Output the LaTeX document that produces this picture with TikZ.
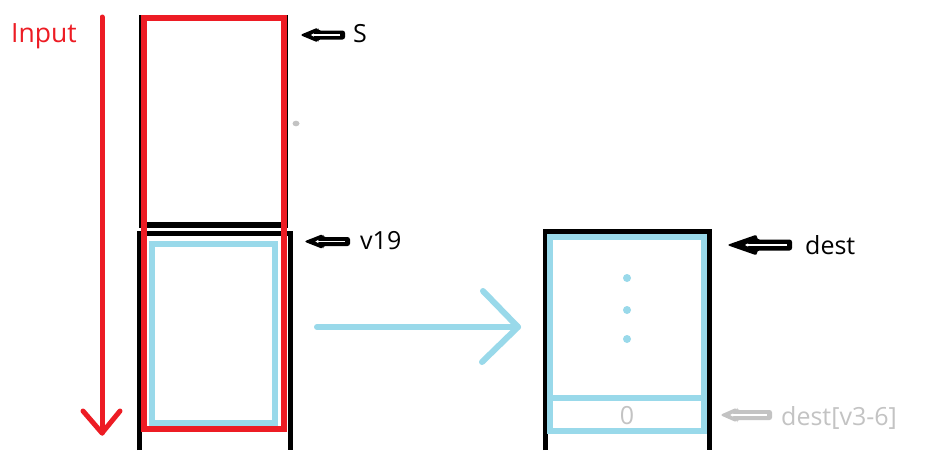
\documentclass[tikz,border=0pt]{standalone}
\usepackage{fontspec}
\setmainfont{Open Sans}
\usetikzlibrary{arrows.meta}
\definecolor{pred}{HTML}{ED1C24}
\definecolor{pblue}{HTML}{99D9EA}
\definecolor{pgray}{HTML}{C3C3C3}
% #1 colour, #2 name, #3 tip x, #4 y, #5 tail x, #6 head length, #7 head half height, #8 shaft half height
\newcommand\fatarr[8]{%
  \coordinate (#2) at (#3,#4);
  \fill[#1, rounded corners=2.5pt] (#2) -- (#3+#6,#4-#7) -- (#3+#6,#4-#8) -- (#5,#4-#8)
     -- (#5,#4+#8) -- (#3+#6,#4+#8) -- (#3+#6,#4+#7) -- cycle;
  \draw[white, line width=1.2pt, -{Triangle[length=3pt,width=3pt]}] (#5-5,#4) -- (#3+0.6*#6,#4);
}
\begin{document}
\begin{tikzpicture}[x=1pt,y=-1pt,
  lbl/.style={inner sep=0pt, anchor=base west, font=\fontsize{25}{30}\selectfont},
  redline/.style={pred, line width=6pt},
  blueline/.style={pblue, line width=6pt},
  blk/.style={black, line width=5pt}]
\useasboundingbox (0,0) rectangle (936,450);
\fill[white] (0,0) rectangle (936,450);

% left column: upper cell S
\draw[black, line width=3pt] (140,15) -- (140,228);
\draw[black, line width=2pt] (286.5,15) -- (286.5,228);
\draw[black, line width=6pt] (139,225) -- (287,225);
% lower cell v19
\draw[blk] (139.5,450) -- (139.5,233) -- (290.5,233) -- (290.5,450);
\draw[blueline] (151.5,243.5) rectangle (274.5,422.5);
\draw[redline] (144,18) rectangle (283.5,428.5);

% gray dot
\fill[pgray] (296,123.5) ellipse (3.5pt and 2.8pt);

% red Input arrow
\coordinate (inTop) at (102,17);
\coordinate (inTip) at (102,433);
\draw[pred, line width=5pt, line cap=round] (inTop) -- (inTip);
\draw[pred, line width=5pt, line cap=round, line join=round] (83,411) -- (inTip) -- (120,411);
\node[lbl, text=pred, font=\fontsize{26.5}{30}\selectfont] (input) at (11,42) {Input};

% pointer S
\fatarr{black}{sH}{300}{35}{345}{18}{7.5}{4.5}
\node[lbl] (S) at (353,42) {S};

% pointer v19
\fatarr{black}{vH}{304}{241.5}{350}{19}{7.5}{4.5}
\node[lbl] (v19) at (360,249) {v19};

% blue transfer arrow
\coordinate (bS) at (317,327); \coordinate (bT) at (518,327);
\draw[blueline, line cap=round] (bS) -- (bT);
\draw[blueline, line cap=round, line join=round] (483,291) -- (bT) -- (482,362);

% right column: dest
\draw[blk] (545,450) -- (545,231) -- (709,231) -- (709,450);
\draw[blueline] (549.5,236.5) rectangle (704,430.5);
\draw[blueline] (549.5,398) -- (704,398);
\fill[pblue] (627,278) circle (4pt);
\fill[pblue] (627,310) circle (4pt);
\fill[pblue] (627,339) circle (4pt);
\node[inner sep=0pt, text=pgray, font=\fontsize{25}{30}\selectfont] (zero) at (627,416) {0};

% pointer dest
\fatarr{black}{dH}{727}{245}{792}{30}{10.5}{5.5}
\node[lbl] (dest) at (805,254) {dest};

% pointer dest[v3-6]
\fatarr{pgray}{gH}{720}{415}{772}{17}{7.5}{5}
\node[lbl, text=pgray] (destv) at (781,425) {dest[v3-6]};
\end{tikzpicture}
\end{document}
